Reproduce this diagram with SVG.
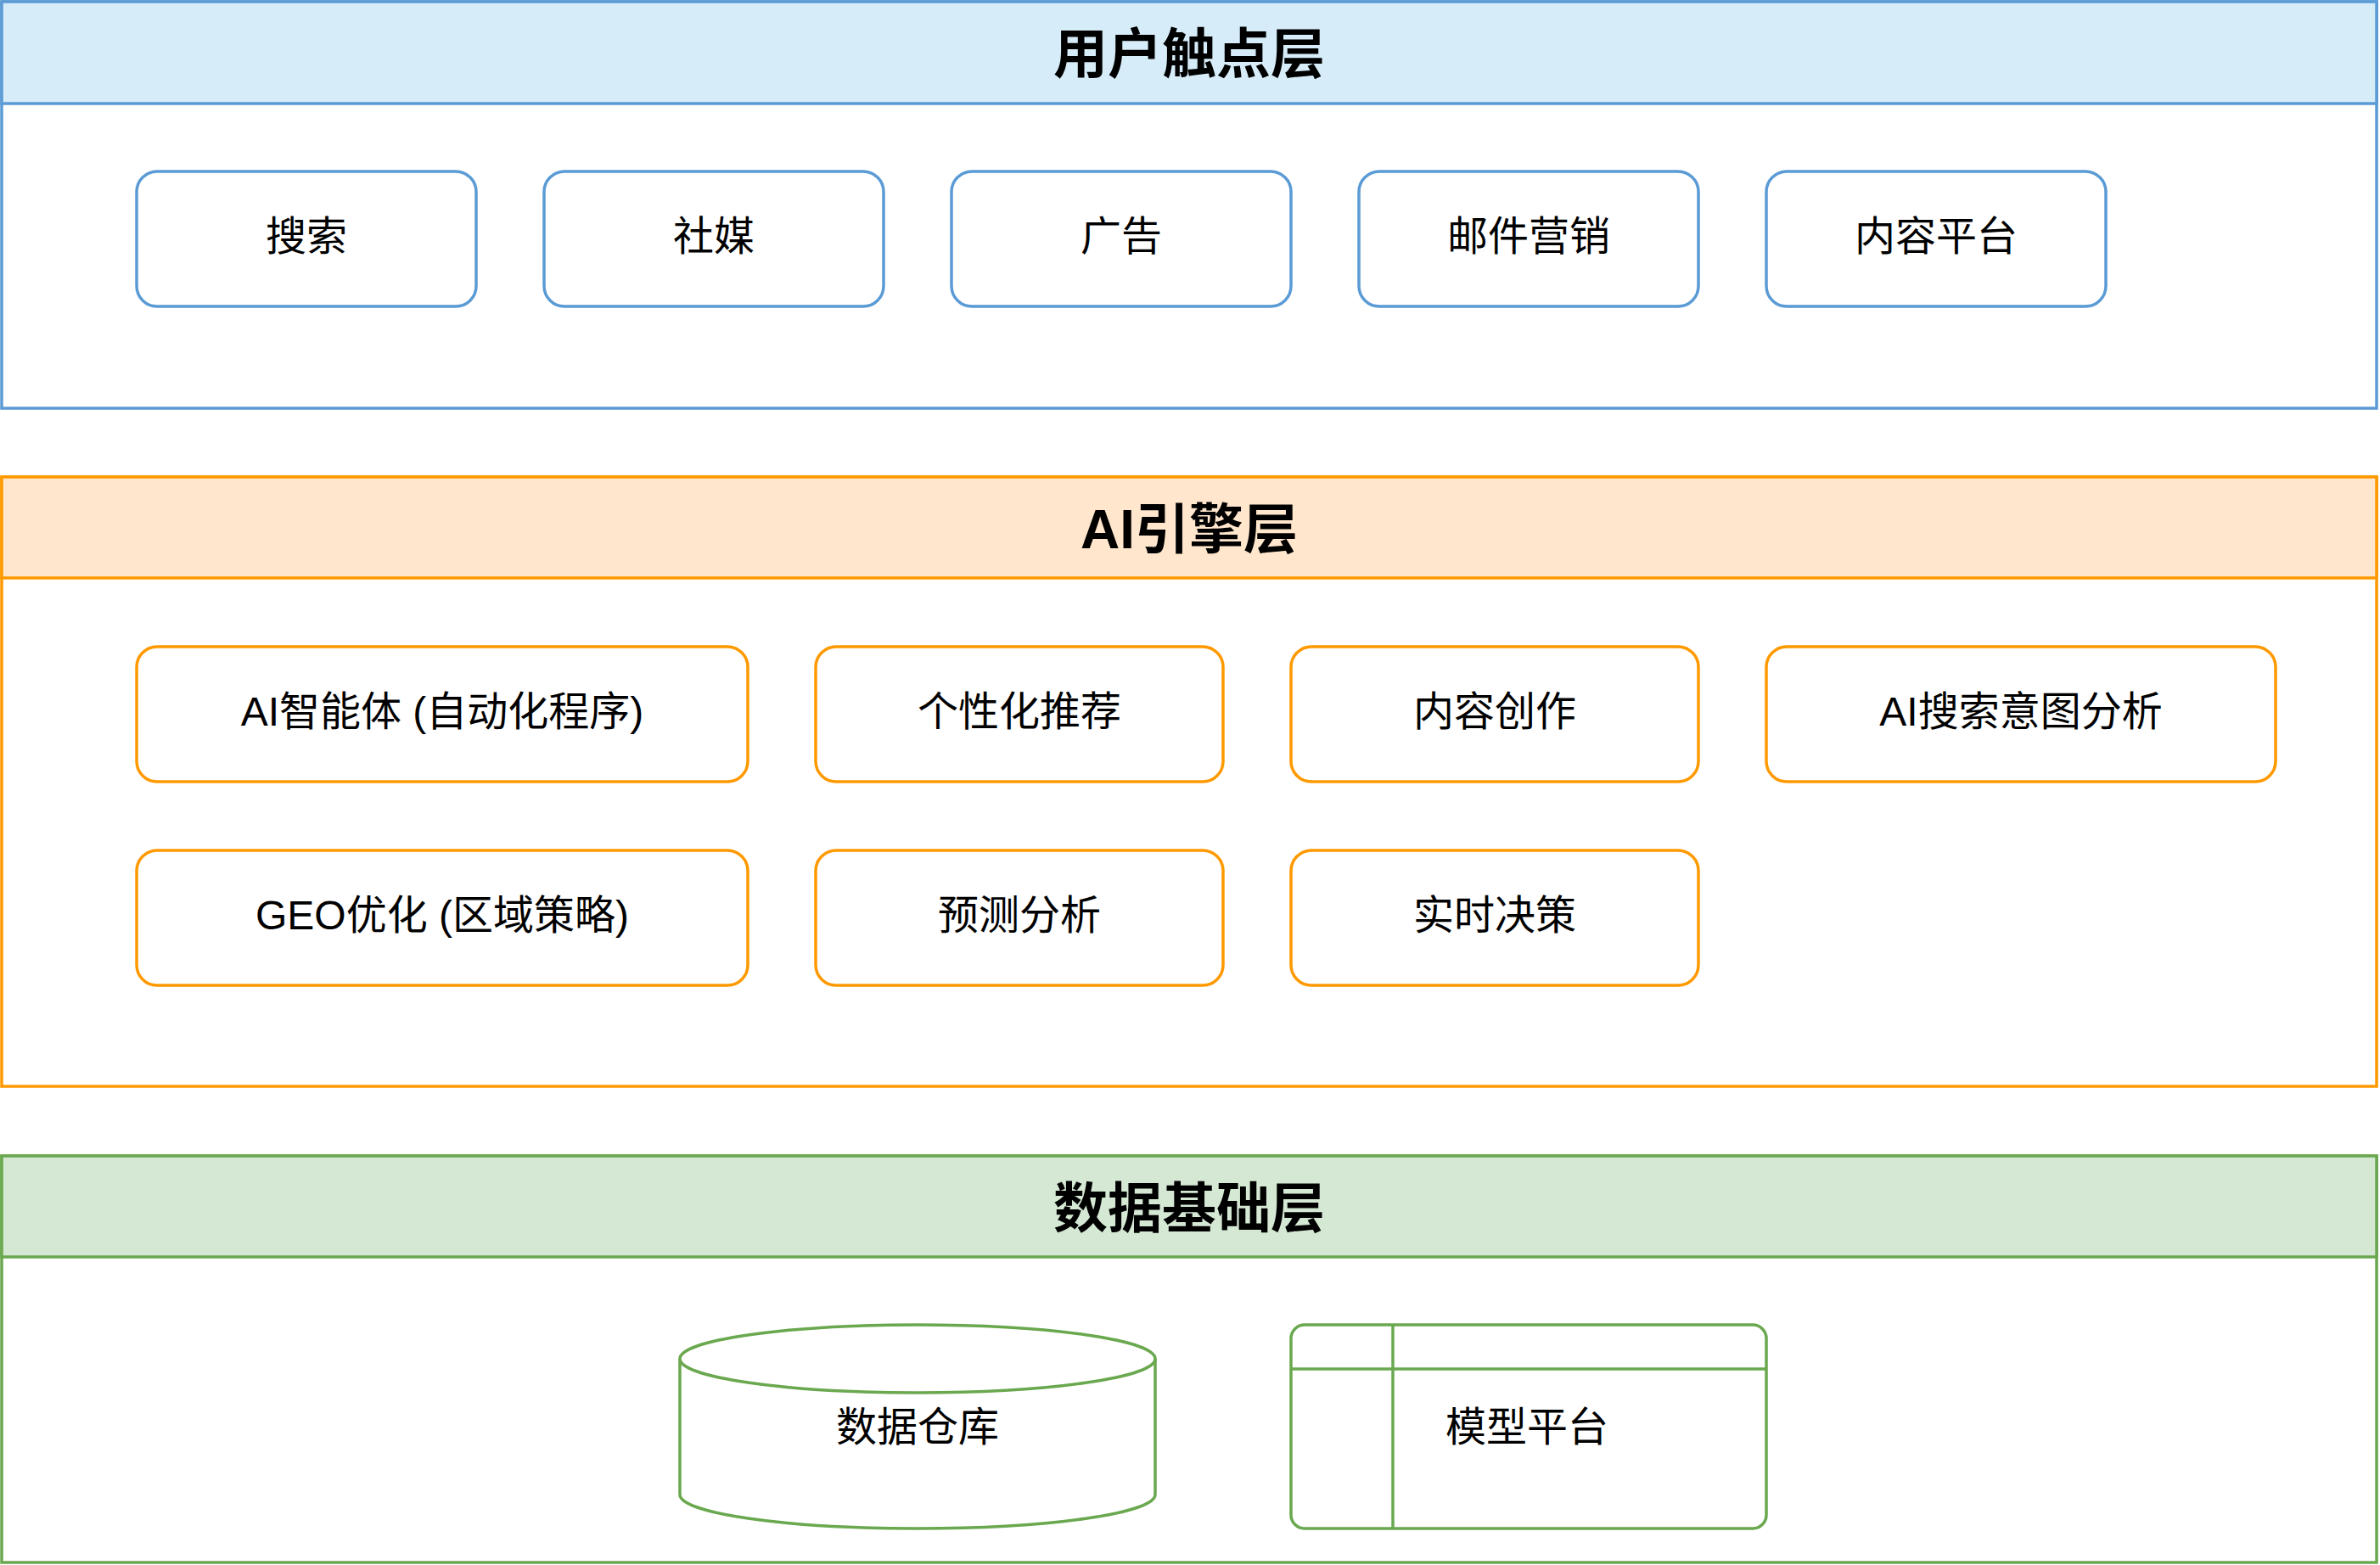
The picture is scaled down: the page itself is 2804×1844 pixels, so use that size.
<svg xmlns="http://www.w3.org/2000/svg" width="2804" height="1844" viewBox="0 0 2804 1844">
<style>
text{font-family:"Liberation Sans",Arial,"Noto Sans CJK SC",sans-serif;text-anchor:middle;dominant-baseline:central;fill:#000}
.t{font-size:64px;font-weight:bold}
.n{font-size:48px}
.bl{stroke:#5B9BD5;stroke-width:3.5}
.or{stroke:#FF9900;stroke-width:3.5}
.gr{stroke:#6AA84F;stroke-width:3.5}
.box{fill:#fff}
</style>
<rect width="2804" height="1844" fill="#fff"/>
<g id="layer-touch">
<rect x="2" y="2" width="2798" height="479" fill="#fff" class="bl"/>
<rect x="2" y="2" width="2798" height="120" fill="#D6ECF8" class="bl"/>
<text class="t" x="1401" y="64">用户触点层</text>
</g>
<g id="n-search"><rect class="box bl" x="161" y="202" width="400" height="159" rx="24"/><text class="n" x="361" y="278">搜索</text></g>
<g id="n-social"><rect class="box bl" x="641" y="202" width="400" height="159" rx="24"/><text class="n" x="841" y="278">社媒</text></g>
<g id="n-ads"><rect class="box bl" x="1121" y="202" width="400" height="159" rx="24"/><text class="n" x="1321" y="278">广告</text></g>
<g id="n-email"><rect class="box bl" x="1601" y="202" width="400" height="159" rx="24"/><text class="n" x="1801" y="278">邮件营销</text></g>
<g id="n-content"><rect class="box bl" x="2081" y="202" width="400" height="159" rx="24"/><text class="n" x="2281" y="278">内容平台</text></g>

<g id="layer-ai">
<rect x="2" y="562" width="2798" height="718" fill="#fff" class="or"/>
<rect x="2" y="562" width="2798" height="119" fill="#FFE6CC" class="or"/>
<text class="t" x="1401" y="624">AI引擎层</text>
</g>
<g id="n-agent"><rect class="box or" x="161" y="762" width="720" height="159" rx="24"/><text class="n" x="521" y="838">AI智能体 (自动化程序)</text></g>
<g id="n-recommend"><rect class="box or" x="961" y="762" width="480" height="159" rx="24"/><text class="n" x="1201" y="838">个性化推荐</text></g>
<g id="n-create"><rect class="box or" x="1521" y="762" width="480" height="159" rx="24"/><text class="n" x="1761" y="838">内容创作</text></g>
<g id="n-intent"><rect class="box or" x="2081" y="762" width="600" height="159" rx="24"/><text class="n" x="2381" y="838">AI搜索意图分析</text></g>
<g id="n-geo"><rect class="box or" x="161" y="1002" width="720" height="159" rx="24"/><text class="n" x="521" y="1078">GEO优化 (区域策略)</text></g>
<g id="n-predict"><rect class="box or" x="961" y="1002" width="480" height="159" rx="24"/><text class="n" x="1201" y="1078">预测分析</text></g>
<g id="n-decision"><rect class="box or" x="1521" y="1002" width="480" height="159" rx="24"/><text class="n" x="1761" y="1078">实时决策</text></g>

<g id="layer-data">
<rect x="2" y="1362" width="2798" height="479" fill="#fff" class="gr"/>
<rect x="2" y="1362" width="2798" height="119" fill="#D5E8D4" class="gr"/>
<text class="t" x="1401" y="1424">数据基础层</text>
</g>
<g id="n-warehouse">
<path class="box gr" d="M801,1601 L801,1761 A280,40 0 0 0 1361,1761 L1361,1601"/>
<ellipse class="box gr" cx="1081" cy="1601" rx="280" ry="40"/>
<text class="n" x="1081" y="1681">数据仓库</text>
</g>
<g id="n-model">
<rect class="box gr" x="1521" y="1561" width="560" height="240" rx="16"/>
<line class="gr" x1="1521" y1="1613" x2="2081" y2="1613"/>
<line class="gr" x1="1641" y1="1561" x2="1641" y2="1801"/>
<text class="n" x="1799" y="1681">模型平台</text>
</g>
<g id="connectors"/>
</svg>
